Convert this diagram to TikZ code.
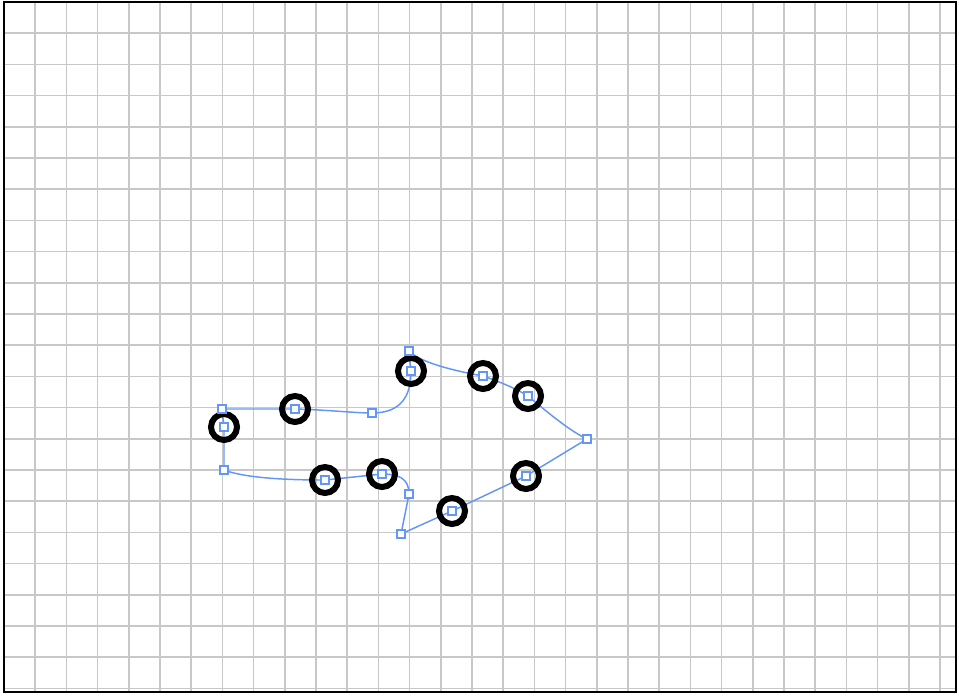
\documentclass[tikz,border=0pt]{standalone}
\begin{document}
\begin{tikzpicture}[x=0.75pt,y=-0.75pt,
  gridline/.style={draw=gridgray,line width=1.2pt},
  frameline/.style={draw=black,line width=1.5pt},
  outline/.style={draw=pathblue,line width=1.1pt},
  ring/.style={circle,draw=black,line width=4.5pt,minimum size=19.5pt,inner sep=0pt},
  handle/.style={rectangle,draw=pathblue,fill=white,line width=0.8pt,minimum size=6pt,inner sep=0pt}]
\definecolor{gridgray}{RGB}{200,200,200}
\definecolor{pathblue}{RGB}{100,150,245}
\useasboundingbox (0,0) rectangle (959,697);
\fill[white] (0,0) rectangle (959,697);
% grid
\foreach \k in {1,...,30} {\draw[gridline] ({4+31.2*\k},2) -- ({4+31.2*\k},692);}
\foreach \k in {1,...,22} {\draw[gridline] (4,{2+31.2*\k}) -- (956,{2+31.2*\k});}
\draw[frameline] (4,2) rectangle (956,692);
% anchor coordinates
\coordinate (p0) at (222,409);
\coordinate (p1) at (295,409);
\coordinate (p2) at (372,413);
\coordinate (p3) at (411,371);
\coordinate (p4) at (409,351);
\coordinate (p5) at (483,376);
\coordinate (p6) at (528,396);
\coordinate (p7) at (587,439);
\coordinate (p8) at (526,476);
\coordinate (p9) at (452,511);
\coordinate (p10) at (401,534);
\coordinate (p11) at (409,494);
\coordinate (p12) at (382,474);
\coordinate (p13) at (325,480);
\coordinate (p14) at (224,470);
\coordinate (p15) at (224,427);
% outline path
\draw[outline] (p0) -- (p1)
  .. controls (330,410) and (355,413) .. (p2)
  .. controls (402,413) and (411,395) .. (p3)
  -- (p4)
  .. controls (420,362) and (450,370) .. (p5)
  .. controls (500,382) and (515,388) .. (p6)
  .. controls (545,410) and (568,430) .. (p7)
  -- (p8) -- (p9) -- (p10) -- (p11)
  .. controls (409,478) and (398,474) .. (p12)
  -- (p13)
  .. controls (270,480) and (240,476) .. (p14)
  -- (p15) -- cycle;
% rings
\foreach \p in {p1,p3,p5,p6,p8,p9,p12,p13,p15} {\node[ring] (r\p) at (\p) {};}
% handles
\foreach \p in {p0,p1,p2,p3,p4,p5,p6,p7,p8,p9,p10,p11,p12,p13,p14,p15} {\node[handle] (h\p) at (\p) {};}
\end{tikzpicture}
\end{document}
